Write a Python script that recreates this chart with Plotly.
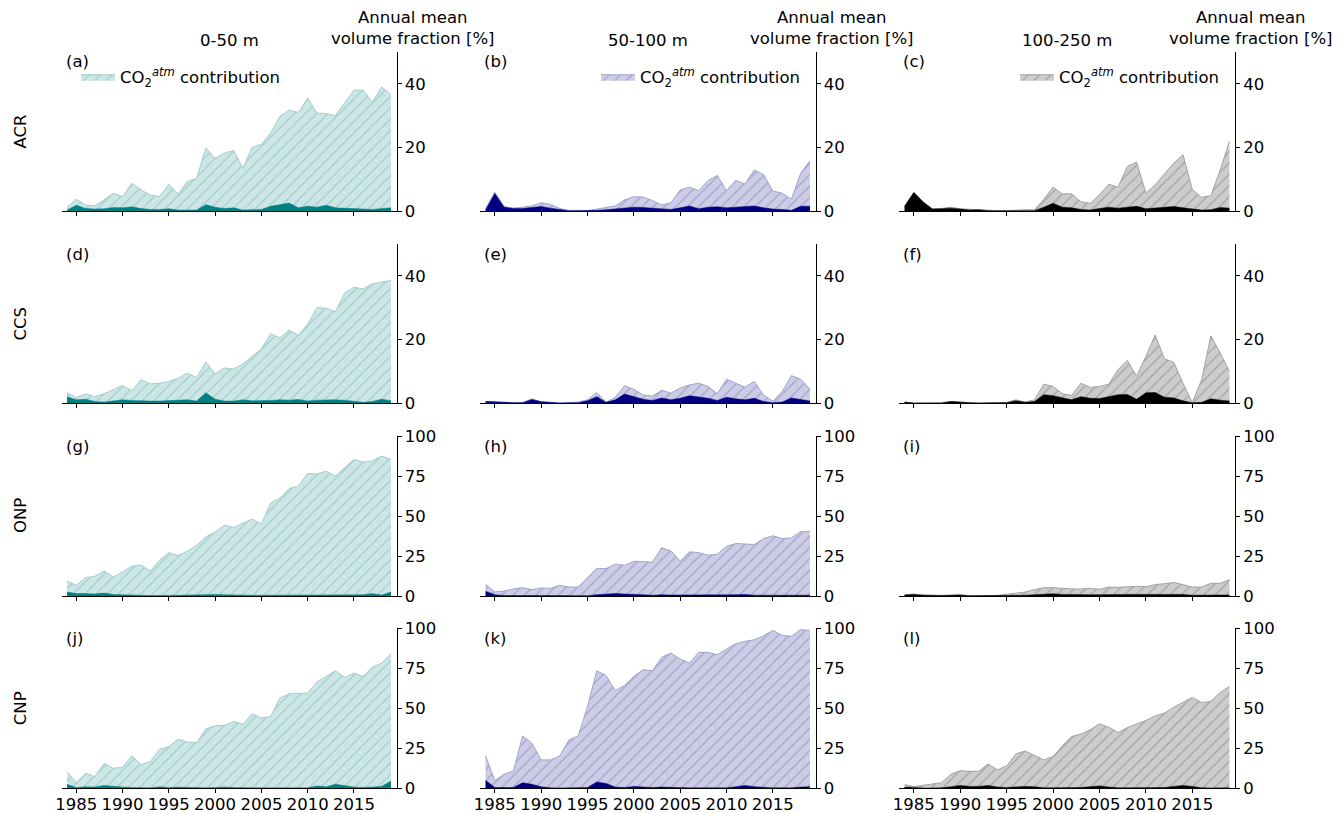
import plotly.graph_objects as go

years = list(range(1984, 2020))

# ---------------- ACR ----------------
acr_0_50_atm = [1.2, 3.7, 1.9, 1.6, 3.5, 5.6, 4.5, 8.7, 6.6, 5.0, 4.5, 8.4, 5.3, 9.3, 10.3, 19.8, 16.6, 18.2, 19.0, 13.5,
                20.0, 21.0, 24.5, 29.8, 31.7, 31.0, 35.5, 30.8, 30.6, 30.0, 34.0, 38.0, 38.0, 34.2, 39.0, 36.6]
acr_0_50_base = [0.3, 1.8, 0.8, 0.6, 0.7, 1.1, 1.0, 1.3, 0.8, 0.5, 0.5, 0.7, 0.3, 0.3, 0.3, 2.0, 1.2, 0.8, 1.0, 0.3,
                 0.3, 0.5, 1.5, 2.0, 2.5, 1.0, 1.5, 1.2, 1.8, 1.0, 0.8, 0.8, 0.6, 0.5, 0.8, 1.0]
acr_50_100_atm = [0.8, 5.9, 1.4, 0.9, 1.2, 1.6, 2.6, 2.1, 0.8, 0.1, 0.2, 0.1, 0.6, 1.2, 1.6, 3.5, 4.5, 4.4, 3.3, 1.9,
                  2.6, 6.6, 7.5, 6.4, 9.6, 11.2, 6.4, 9.6, 8.5, 12.9, 11.4, 6.3, 5.6, 3.7, 11.9, 15.8]
acr_50_100_base = [0.3, 5.5, 1.2, 0.8, 0.8, 1.0, 1.4, 0.9, 0.4, 0.1, 0.1, 0.1, 0.2, 0.4, 0.6, 0.9, 1.2, 1.1, 0.9, 0.6,
                   0.5, 1.0, 1.6, 0.7, 1.2, 1.3, 1.0, 1.2, 1.3, 1.6, 1.0, 0.6, 0.5, 0.2, 1.5, 1.5]
acr_100_250_atm = [1.4, 5.9, 2.9, 0.7, 0.8, 1.2, 0.7, 0.5, 0.5, 0.1, 0.1, 0.1, 0.3, 0.4, 0.4, 3.7, 7.5, 5.4, 5.4, 2.9,
                   2.4, 5.1, 8.4, 7.5, 14.0, 15.4, 5.6, 8.2, 11.7, 15.0, 17.7, 6.8, 4.3, 4.8, 12.9, 21.9]
acr_100_250_base = [1.5, 5.8, 2.8, 0.6, 0.7, 0.9, 0.6, 0.3, 0.4, 0.1, 0.05, 0.05, 0.1, 0.1, 0.1, 1.2, 2.4, 1.2, 1.0, 0.5,
                    0.3, 0.8, 1.2, 0.9, 1.3, 1.5, 0.7, 0.9, 1.2, 1.4, 1.0, 0.6, 0.3, 0.4, 1.1, 0.9]

# ---------------- CCS ----------------
ccs_0_50_atm = [3.2, 1.7, 2.9, 2.0, 2.9, 4.3, 5.5, 3.9, 7.3, 6.0, 6.2, 6.8, 7.8, 9.4, 8.0, 12.9, 9.2, 11.0, 10.7, 12.3,
                14.7, 17.0, 21.8, 20.5, 22.9, 21.3, 24.8, 30.0, 29.8, 28.7, 34.6, 36.4, 35.9, 37.5, 38.0, 38.5]
ccs_0_50_base = [2.0, 1.0, 1.2, 0.5, 0.3, 0.7, 1.0, 0.8, 0.6, 0.6, 0.6, 0.7, 0.8, 1.0, 0.6, 3.2, 1.2, 0.6, 0.6, 1.0,
                 0.7, 0.7, 0.8, 1.0, 0.9, 1.1, 0.6, 0.9, 1.0, 1.0, 0.9, 0.6, 0.2, 0.5, 1.2, 0.7]
ccs_50_100_atm = [0.5, 0.3, 0.3, 0.1, 0.1, 1.3, 0.4, 0.2, 0.0, 0.1, 0.3, 1.0, 3.3, 0.2, 1.8, 5.4, 4.3, 2.5, 2.2, 4.0,
                  3.1, 4.7, 5.7, 6.2, 5.2, 2.9, 7.5, 6.2, 5.0, 6.8, 2.5, 0.6, 3.6, 8.6, 7.5, 4.3]
ccs_50_100_base = [0.5, 0.3, 0.3, 0.1, 0.1, 1.1, 0.4, 0.2, 0.0, 0.05, 0.1, 0.7, 2.0, 0.2, 1.0, 2.8, 2.0, 1.2, 0.8, 1.6,
                   1.0, 1.5, 2.3, 2.0, 1.5, 0.8, 1.8, 1.3, 1.0, 1.5, 0.5, 0.1, 0.3, 1.6, 1.2, 0.6]
ccs_100_250_atm = [0.3, 0.0, 0.0, 0.0, 0.1, 0.5, 0.2, 0.1, 0.0, 0.0, 0.0, 0.2, 1.0, 0.3, 1.0, 5.9, 5.2, 2.9, 2.4, 6.2,
                   4.9, 5.2, 5.9, 10.5, 13.4, 8.4, 14.7, 21.4, 13.9, 12.8, 6.2, 0.1, 7.3, 21.1, 15.8, 9.9]
ccs_100_250_base = [0.3, 0.0, 0.0, 0.0, 0.0, 0.5, 0.2, 0.1, 0.0, 0.0, 0.0, 0.1, 0.7, 0.2, 0.5, 2.6, 2.3, 1.6, 1.0, 2.0,
                    1.5, 1.4, 2.0, 2.6, 2.7, 1.2, 3.2, 3.3, 1.8, 1.6, 0.7, 0.05, 0.2, 1.3, 0.9, 0.6]

# ---------------- ONP ----------------
onp_0_50_atm = [9.4, 6.7, 11.5, 12.3, 15.7, 11.9, 15.0, 18.6, 19.4, 15.7, 22.3, 27.1, 25.3, 28.0, 31.7, 37.0, 40.0, 44.3,
                42.8, 45.7, 48.2, 44.9, 58.2, 61.2, 67.2, 68.7, 76.6, 76.2, 78.0, 75.0, 80.4, 85.4, 83.7, 84.6, 87.5, 85.4]
onp_0_50_base = [2.5, 1.5, 1.5, 1.2, 1.8, 1.0, 0.8, 0.8, 0.5, 0.3, 0.5, 0.5, 0.5, 0.6, 0.8, 0.8, 1.0, 0.8, 0.6, 0.5,
                 0.5, 0.5, 0.5, 0.6, 0.8, 0.6, 0.6, 0.5, 0.6, 0.6, 0.6, 0.6, 0.8, 1.5, 0.6, 2.5]
onp_50_100_atm = [7.3, 2.5, 3.1, 4.4, 5.2, 4.0, 5.0, 4.8, 6.7, 5.6, 5.6, 11.5, 17.3, 17.1, 20.0, 19.2, 21.7, 21.5, 21.1,
                  30.1, 28.2, 21.9, 27.6, 27.1, 25.5, 26.1, 31.1, 32.8, 32.4, 32.2, 35.9, 37.6, 35.9, 36.3, 40.1, 40.5]
onp_50_100_base = [3.0, 0.8, 0.3, 0.4, 0.5, 0.4, 0.3, 0.3, 0.2, 0.2, 0.2, 0.2, 0.8, 1.0, 1.5, 1.2, 1.2, 0.8, 0.5, 0.8,
                   0.6, 0.6, 0.6, 0.6, 0.4, 0.4, 0.6, 0.8, 1.0, 0.5, 0.5, 0.4, 0.4, 0.5, 0.5, 0.5]
onp_100_250_atm = [0.8, 1.2, 0.6, 0.4, 0.4, 0.6, 0.8, 0.2, 0.2, 0.2, 0.4, 1.0, 1.9, 2.5, 4.0, 5.2, 5.2, 4.6, 4.4, 4.4,
                   4.8, 4.2, 5.6, 5.4, 5.6, 6.1, 5.8, 7.1, 7.7, 8.4, 7.1, 5.6, 5.6, 7.9, 7.9, 10.2]
onp_100_250_base = [0.6, 1.0, 0.5, 0.3, 0.3, 0.4, 0.6, 0.1, 0.1, 0.1, 0.2, 0.3, 0.4, 0.5, 0.8, 1.2, 1.4, 1.0, 0.8, 0.8,
                    0.8, 0.8, 1.0, 1.0, 1.0, 1.0, 1.0, 1.2, 1.3, 1.3, 1.0, 0.5, 0.4, 0.6, 0.6, 0.6]

# ---------------- CNP ----------------
cnp_0_50_atm = [10.4, 3.5, 9.4, 7.3, 15.6, 12.5, 13.1, 20.4, 14.6, 16.7, 24.4, 26.0, 30.6, 28.8, 28.5, 37.1, 39.0, 39.2,
                41.7, 40.0, 46.5, 43.8, 44.8, 56.3, 59.0, 59.0, 59.4, 66.3, 69.8, 73.3, 69.2, 71.9, 69.8, 75.6, 78.1, 84.0]
cnp_0_50_base = [2.5, 0.5, 1.0, 0.8, 1.8, 1.2, 0.8, 0.5, 0.3, 0.3, 1.0, 0.5, 0.8, 0.5, 0.3, 0.3, 0.5, 0.8, 0.5, 0.3,
                 0.3, 0.3, 0.3, 0.3, 0.3, 0.3, 0.3, 1.5, 1.0, 2.5, 1.5, 0.8, 0.5, 0.8, 1.2, 4.5]
cnp_50_100_atm = [20.2, 4.8, 8.8, 10.8, 32.7, 28.1, 17.7, 17.7, 20.2, 30.2, 32.7, 51.0, 73.3, 70.4, 61.0, 64.2, 69.8,
                  74.0, 73.3, 81.7, 84.4, 80.6, 78.1, 84.8, 84.8, 83.3, 86.9, 90.2, 91.7, 92.7, 95.2, 98.5, 95.4, 94.8,
                  99.0, 98.5]
cnp_50_100_base = [5.0, 0.5, 0.5, 0.5, 3.5, 2.5, 1.0, 0.3, 0.2, 0.2, 0.3, 0.5, 4.0, 3.0, 0.8, 0.5, 1.2, 0.8, 0.5, 0.8,
                   0.5, 0.5, 0.3, 0.3, 0.3, 0.3, 0.3, 1.0, 1.8, 1.0, 0.5, 0.3, 0.3, 0.3, 0.8, 1.0]
cnp_100_250_atm = [2.3, 1.0, 1.9, 2.5, 3.5, 8.8, 11.0, 10.6, 10.6, 15.2, 11.5, 14.0, 21.5, 23.3, 20.4, 17.7, 19.8, 26.5,
                   32.3, 33.8, 36.5, 40.2, 38.1, 34.8, 37.9, 40.2, 42.3, 45.2, 46.9, 50.6, 53.5, 56.7, 53.5, 54.2, 59.8,
                   63.5]
cnp_100_250_base = [0.8, 0.3, 0.2, 0.2, 0.3, 1.0, 1.8, 1.2, 1.2, 1.8, 0.8, 0.5, 0.8, 1.2, 1.0, 0.3, 0.3, 0.3, 0.5, 0.5,
                    1.0, 1.5, 0.8, 0.3, 0.3, 0.3, 0.3, 0.3, 0.5, 1.2, 1.8, 1.2, 0.3, 0.2, 0.2, 0.3]

regions = ["ACR", "CCS", "ONP", "CNP"]
depths = ["0-50 m", "50-100 m", "100-250 m"]
panel_letters = ["a", "b", "c", "d", "e", "f", "g", "h", "i", "j", "k", "l"]
x_ticks = [1985, 1990, 1995, 2000, 2005, 2010, 2015]
y_ticks_small = [0, 20, 40]
y_ticks_large = [0, 25, 50, 75, 100]
y_max = [50, 50, 100, 100]

atm_series = [
    [acr_0_50_atm, acr_50_100_atm, acr_100_250_atm],
    [ccs_0_50_atm, ccs_50_100_atm, ccs_100_250_atm],
    [onp_0_50_atm, onp_50_100_atm, onp_100_250_atm],
    [cnp_0_50_atm, cnp_50_100_atm, cnp_100_250_atm],
]
base_series = [
    [acr_0_50_base, acr_50_100_base, acr_100_250_base],
    [ccs_0_50_base, ccs_50_100_base, ccs_100_250_base],
    [onp_0_50_base, onp_50_100_base, onp_100_250_base],
    [cnp_0_50_base, cnp_50_100_base, cnp_100_250_base],
]

# styles per depth column
dark_colors = ["#008080", "#000080", "#000000"]
light_colors = ["#cce6e6", "#cccce6", "#cccccc"]
hatch_colors = ["#a3cccc", "#a3a3cc", "#a3a3a3"]

W, H = 1338, 813
FONT = "DejaVu Sans"
FS = 16.5
col_px = [(61.5, 396.5), (480, 815.5), (899, 1235)]
row_px = [(52, 211), (244, 403), (436, 596), (628, 788.3)]
x_range = [1983.4, 2019.6]

fig = go.Figure()
layout = dict(
    template="none",
    width=W, height=H, margin=dict(l=0, r=0, t=0, b=0, autoexpand=False),
    paper_bgcolor="white", plot_bgcolor="rgba(0,0,0,0)",
    font=dict(family=FONT, size=FS, color="black"),
    showlegend=True,
)
annotations = []

for r in range(4):
    for c in range(3):
        idx = r * 3 + c + 1
        xa = "x" if idx == 1 else f"x{idx}"
        ya = "y" if idx == 1 else f"y{idx}"
        legend_name = "legend" if c == 0 else f"legend{c + 1}"
        fig.add_trace(go.Scatter(
            x=years, y=atm_series[r][c], xaxis=xa, yaxis=ya,
            mode="lines", fill="tozeroy",
            fillcolor=light_colors[c],
            fillpattern=dict(shape="/", fgcolor=hatch_colors[c], bgcolor=light_colors[c],
                             size=8, solidity=0.15),
            line=dict(color=hatch_colors[c], width=1),
            name="CO<sub>2</sub><sup><i>atm</i></sup> contribution",
            showlegend=(r == 0), legend=legend_name, hoverinfo="skip",
        ))
        fig.add_trace(go.Scatter(
            x=years, y=base_series[r][c], xaxis=xa, yaxis=ya,
            mode="lines", fill="tozeroy", fillcolor=dark_colors[c],
            line=dict(color=dark_colors[c], width=0.5),
            showlegend=False, hoverinfo="skip",
        ))
        x0, x1 = col_px[c]
        y0, y1 = row_px[r]
        xkey = "xaxis" if idx == 1 else f"xaxis{idx}"
        ykey = "yaxis" if idx == 1 else f"yaxis{idx}"
        layout[xkey] = dict(
            domain=[x0 / W, x1 / W], anchor=ya, range=x_range, automargin=False,
            showline=True, linecolor="black", linewidth=1,
            ticks="outside", ticklen=4, tickwidth=1, tickcolor="black",
            tickvals=x_ticks, showticklabels=(r == 3), ticklabelstandoff=-3,
            showgrid=False, zeroline=False, tickfont=dict(size=FS),
        )
        layout[ykey] = dict(
            domain=[1 - y1 / H, 1 - y0 / H], anchor=xa, side="right",
            range=[0, y_max[r]], automargin=False,
            showline=True, linecolor="black", linewidth=1,
            ticks="outside", ticklen=4, tickwidth=1, tickcolor="black",
            tickvals=(y_ticks_small if y_max[r] == 50 else y_ticks_large),
            showgrid=False, zeroline=False, tickfont=dict(size=FS),
        )
        annotations.append(dict(
            text=f"({panel_letters[idx - 1]})", xref="paper", yref="paper",
            x=(x0 + 2) / W, y=1 - (y0 + 10) / H, xanchor="left", yanchor="middle",
            showarrow=False, font=dict(size=FS),
        ))

for c in range(3):
    x0, x1 = col_px[c]
    annotations.append(dict(
        text=depths[c], xref="paper", yref="paper",
        x=(x0 + x1) / 2 / W, y=1 - 40 / H, xanchor="center", yanchor="middle",
        showarrow=False, font=dict(size=FS),
    ))
    annotations.append(dict(
        text="Annual mean<br>volume fraction [%]", xref="paper", yref="paper",
        x=(x1 + 16) / W, y=1 - 28.5 / H, xanchor="center", yanchor="middle",
        showarrow=False, font=dict(size=FS),
    ))
    legend_key = "legend" if c == 0 else f"legend{c + 1}"
    lx = [76, 596, 1015][c]
    layout[legend_key] = dict(
        x=lx / W, y=1 - 77 / H, xanchor="left", yanchor="middle",
        bgcolor="rgba(0,0,0,0)", borderwidth=0, font=dict(size=FS),
        itemwidth=34,
    )

for r in range(4):
    y0, y1 = row_px[r]
    annotations.append(dict(
        text=regions[r], xref="paper", yref="paper",
        x=20 / W, y=1 - (y0 + y1) / 2 / H, xanchor="center", yanchor="middle",
        textangle=-90, showarrow=False, font=dict(size=FS),
    ))

layout["annotations"] = annotations
fig.update_layout(**layout)
fig.write_html("out.html")
